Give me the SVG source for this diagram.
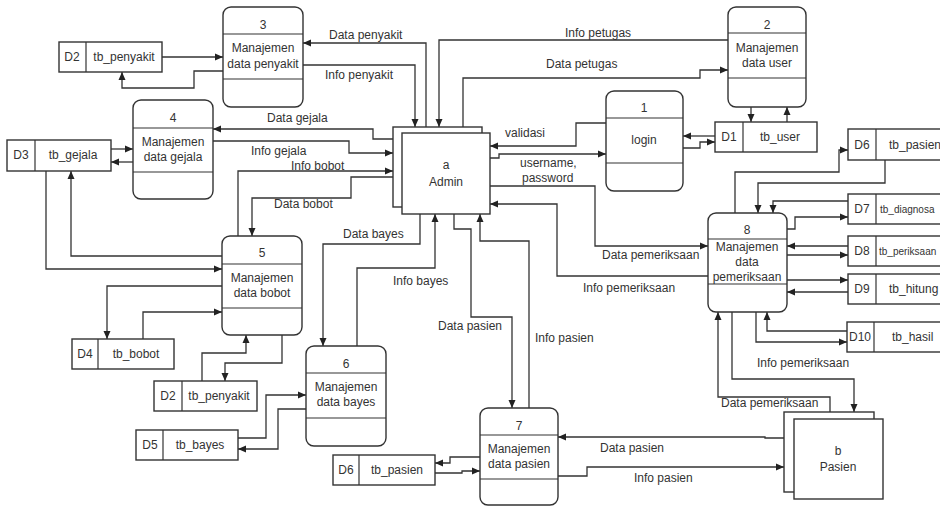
<svg xmlns="http://www.w3.org/2000/svg" width="940" height="506" viewBox="0 0 940 506">
<style>
.b{fill:#fff;stroke:#333;stroke-width:1.4}
.d{fill:none;stroke:#333;stroke-width:1.2}
.l{fill:none;stroke:#333;stroke-width:1.3;marker-end:url(#a)}
text{font-family:"Liberation Sans",Arial,sans-serif;font-size:12px;fill:#333}
.c{text-anchor:middle}
.s{font-size:10px}
</style>
<defs>
<marker id="a" markerWidth="9" markerHeight="8" refX="8" refY="4" orient="auto" markerUnits="userSpaceOnUse"><path d="M0,0.5 L8,4 L0,7.5 z" fill="#222"/></marker>
</defs>
<rect width="940" height="506" fill="#fff"/>

<g id="connectors">
<path class="l" d="M162,57 H223"/>
<path class="l" d="M223,71 H194 V88 H122 V72"/>
<path class="l" d="M426,127 V43 H303"/>
<path class="l" d="M303,65 H415 V127"/>
<path class="l" d="M728,40 H439 V127"/>
<path class="l" d="M463,127 V78 H700 V70 H728"/>
<path class="l" d="M751,107 V122"/>
<path class="l" d="M787,122 V107"/>
<path class="l" d="M715,136 H683"/>
<path class="l" d="M683,148 H700 V142 H715"/>
<path class="l" d="M606,123 H576 V146 H490"/>
<path class="l" d="M490,158 H499 V154 H606"/>
<path class="l" d="M490,186 H595 V246 H708"/>
<path class="l" d="M708,276 H557 V204 H490"/>
<path class="l" d="M735,213 V172 H839 V150 H848"/>
<path class="l" d="M885,160 V183 H758 V213"/>
<path class="l" d="M848,201 H773 V213"/>
<path class="l" d="M787,229 H795 V217 H848"/>
<path class="l" d="M848,246 H787"/>
<path class="l" d="M787,255 H848"/>
<path class="l" d="M787,280 H848"/>
<path class="l" d="M848,292 H787"/>
<path class="l" d="M756,312 V342 H847"/>
<path class="l" d="M847,331 H767 V312"/>
<path class="l" d="M732,312 V379 H854 V412"/>
<path class="l" d="M830,412 V397 H718 V312"/>
<path class="l" d="M784,438 H765 V437 H558"/>
<path class="l" d="M558,476 H587 V467 H784"/>
<path class="l" d="M454,214 V229 H471 V317 H512 V408"/>
<path class="l" d="M529,408 V241 H480 V214"/>
<path class="l" d="M480,457 H450 V463 H435"/>
<path class="l" d="M435,473 H462 V471 H480"/>
<path class="l" d="M420,214 V244 H323 V346"/>
<path class="l" d="M357,346 V268 H435 V214"/>
<path class="l" d="M238,438 H266 V395 H306"/>
<path class="l" d="M306,409 H278 V449 H238"/>
<path class="l" d="M202,381 V353 H246 V335"/>
<path class="l" d="M282,335 V363 H225 V381"/>
<path class="l" d="M222,286 H107 V339"/>
<path class="l" d="M143,339 V312 H222"/>
<path class="l" d="M46,171 V269 H222"/>
<path class="l" d="M222,256 H71 V171"/>
<path class="l" d="M238,236 V171 H393"/>
<path class="l" d="M393,177 H351 V198 H252 V236"/>
<path class="l" d="M393,139 H373 V129 H213"/>
<path class="l" d="M213,141 H349 V153 H393"/>
<path class="l" d="M111,149 H133"/>
<path class="l" d="M133,162 H111"/>
</g>

<g id="labels">
<text x="329" y="39">Data penyakit</text>
<text x="325" y="79">Info penyakit</text>
<text x="565" y="37">Info petugas</text>
<text x="546" y="68">Data petugas</text>
<text x="505" y="137">validasi</text>
<text x="520" y="167">username,</text>
<text x="522" y="182">password</text>
<text x="267" y="122">Data gejala</text>
<text x="251" y="155">Info gejala</text>
<text x="291" y="170">Info bobot</text>
<text x="274" y="208">Data bobot</text>
<text x="343" y="238">Data bayes</text>
<text x="393" y="285">Info bayes</text>
<text x="438" y="330">Data pasien</text>
<text x="535" y="342">Info pasien</text>
<text x="602" y="259">Data pemeriksaan</text>
<text x="583" y="292">Info pemeriksaan</text>
<text x="757" y="367">Info pemeriksaan</text>
<text x="721" y="407">Data pemeriksaan</text>
<text x="600" y="452">Data pasien</text>
<text x="634" y="482">Info pasien</text>
</g>

<g id="admin">
<rect class="b" x="393" y="127" width="89" height="80"/>
<rect class="b" x="402" y="133" width="88" height="81"/>
<text class="c" x="446" y="169">a</text>
<text class="c" x="446" y="186">Admin</text>
</g>

<g id="pasien">
<rect class="b" x="784" y="412" width="90" height="80"/>
<rect class="b" x="794" y="419" width="89" height="80"/>
<text class="c" x="838" y="455">b</text>
<text class="c" x="838" y="471">Pasien</text>
</g>

<g id="p1">
<rect class="b" x="606" y="91" width="77" height="100" rx="8"/>
<path class="d" d="M606,118 H683 M606,163 H683"/>
<text class="c" x="644" y="112">1</text>
<text class="c" x="644" y="144">login</text>
</g>
<g id="p2">
<rect class="b" x="728" y="7" width="78" height="100" rx="8"/>
<path class="d" d="M728,33 H806 M728,78 H806"/>
<text class="c" x="767" y="29">2</text>
<text class="c" x="767" y="52">Manajemen</text>
<text class="c" x="767" y="67">data user</text>
</g>
<g id="p3">
<rect class="b" x="223" y="7" width="80" height="100" rx="8"/>
<path class="d" d="M223,34 H303 M223,79 H303"/>
<text class="c" x="263" y="29">3</text>
<text class="c" x="263" y="52">Manajemen</text>
<text class="c" x="263" y="68">data penyakit</text>
</g>
<g id="p4">
<rect class="b" x="133" y="100" width="80" height="99" rx="8"/>
<path class="d" d="M133,128 H213 M133,172 H213"/>
<text class="c" x="173" y="122">4</text>
<text class="c" x="173" y="146">Manajemen</text>
<text class="c" x="173" y="161">data gejala</text>
</g>
<g id="p5">
<rect class="b" x="222" y="236" width="80" height="99" rx="8"/>
<path class="d" d="M222,264 H302 M222,308 H302"/>
<text class="c" x="262" y="257">5</text>
<text class="c" x="262" y="282">Manajemen</text>
<text class="c" x="262" y="297">data bobot</text>
</g>
<g id="p6">
<rect class="b" x="306" y="346" width="80" height="100" rx="8"/>
<path class="d" d="M306,373 H386 M306,418 H386"/>
<text class="c" x="346" y="368">6</text>
<text class="c" x="346" y="391">Manajemen</text>
<text class="c" x="346" y="406">data bayes</text>
</g>
<g id="p7">
<rect class="b" x="480" y="408" width="78" height="97" rx="8"/>
<path class="d" d="M480,435 H558 M480,479 H558"/>
<text class="c" x="519" y="430">7</text>
<text class="c" x="519" y="453">Manajemen</text>
<text class="c" x="519" y="468">data pasien</text>
</g>
<g id="p8">
<rect class="b" x="708" y="213" width="79" height="99" rx="8"/>
<path class="d" d="M708,239 H787 M708,284 H787"/>
<text class="c" x="747" y="234">8</text>
<text class="c" x="747" y="251">Manajemen</text>
<text class="c" x="747" y="266">data</text>
<text class="c" x="747" y="281">pemeriksaan</text>
</g>

<g id="s_d1">
<rect class="b" x="715" y="122" width="102" height="30"/>
<path class="d" d="M743,122 V152"/>
<text class="c" x="729" y="141">D1</text>
<text class="c" x="780" y="141">tb_user</text>
</g>
<g id="s_d2a">
<rect class="b" x="59" y="42" width="103" height="30"/>
<path class="d" d="M86,42 V72"/>
<text class="c" x="72" y="61">D2</text>
<text class="c" x="124" y="61">tb_penyakit</text>
</g>
<g id="s_d3">
<rect class="b" x="7" y="140" width="104" height="31"/>
<path class="d" d="M35,140 V171"/>
<text class="c" x="21" y="159">D3</text>
<text class="c" x="73" y="159">tb_gejala</text>
</g>
<g id="s_d4">
<rect class="b" x="72" y="339" width="102" height="30"/>
<path class="d" d="M98,339 V369"/>
<text class="c" x="85" y="358">D4</text>
<text class="c" x="136" y="358">tb_bobot</text>
</g>
<g id="s_d2b">
<rect class="b" x="154" y="381" width="103" height="30"/>
<path class="d" d="M182,381 V411"/>
<text class="c" x="168" y="400">D2</text>
<text class="c" x="219" y="400">tb_penyakit</text>
</g>
<g id="s_d5">
<rect class="b" x="136" y="430" width="102" height="30"/>
<path class="d" d="M163,430 V460"/>
<text class="c" x="150" y="449">D5</text>
<text class="c" x="200" y="449">tb_bayes</text>
</g>
<g id="s_d6b">
<rect class="b" x="333" y="455" width="102" height="30"/>
<path class="d" d="M359,455 V485"/>
<text class="c" x="346" y="474">D6</text>
<text class="c" x="397" y="474">tb_pasien</text>
</g>
<g id="s_d6a">
<rect class="b" x="848" y="129" width="100" height="31"/>
<path class="d" d="M876,129 V160"/>
<text class="c" x="862" y="149">D6</text>
<text x="889" y="149">tb_pasien</text>
</g>
<g id="s_d7">
<rect class="b" x="848" y="194" width="100" height="30"/>
<path class="d" d="M876,194 V224"/>
<text class="c" x="862" y="213">D7</text>
<text class="s" x="880" y="213">tb_diagnosa</text>
</g>
<g id="s_d8">
<rect class="b" x="848" y="236" width="100" height="30"/>
<path class="d" d="M876,236 V266"/>
<text class="c" x="862" y="255">D8</text>
<text class="s" x="879" y="255">tb_periksaan</text>
</g>
<g id="s_d9">
<rect class="b" x="848" y="274" width="100" height="30"/>
<path class="d" d="M876,274 V304"/>
<text class="c" x="862" y="293">D9</text>
<text x="889" y="293">tb_hitung</text>
</g>
<g id="s_d10">
<rect class="b" x="847" y="322" width="100" height="30"/>
<path class="d" d="M874,322 V352"/>
<text class="c" x="860" y="341">D10</text>
<text x="892" y="341">tb_hasil</text>
</g>
</svg>
